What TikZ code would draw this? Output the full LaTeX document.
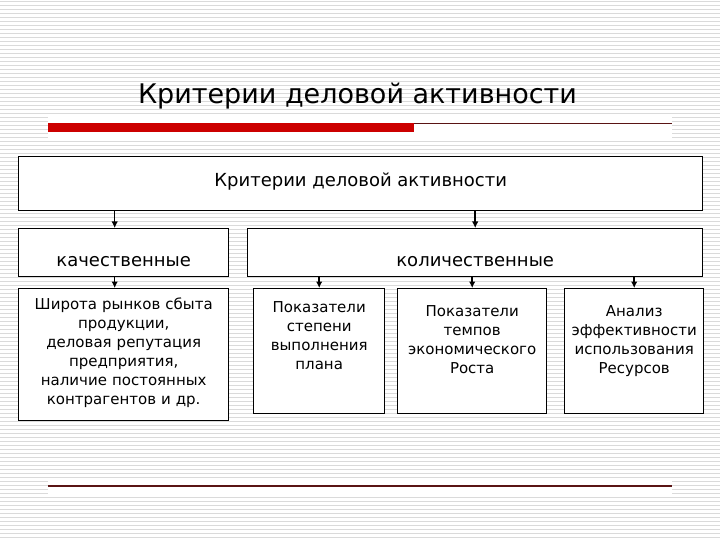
\documentclass[tikz,border=0pt]{standalone}
\usepackage{fontspec}
\setmainfont{DejaVu Sans}
\usetikzlibrary{arrows.meta}
\definecolor{stripegray}{RGB}{218,218,218}
\definecolor{barred}{RGB}{204,0,0}
\definecolor{rulebrown}{RGB}{90,20,20}

\begin{document}
\begin{tikzpicture}[
  x = 1pt, y = -1pt,
  every node/.style = {font=\fontsize{15}{19}\selectfont},
  box/.style   = {draw, line width=1.4pt, fill=white, inner sep=0pt, align=center},
  head/.style  = {box, font=\fontsize{18}{20}\selectfont},
  kind/.style  = {box, font=\fontsize{18}{20}\selectfont,
                  text height=37.5pt, text depth=10.5pt},
  leaf/.style  = {box, text width=#1},
  go/.style    = {->, >={Latex[length=6.5pt,width=6.5pt]}, line width=1.5pt},
]
\useasboundingbox (0,0) rectangle (720,540);

% background stripes
\fill[white] (0,0) rectangle (720,540);
\foreach \y in {0,4,...,536}
  \fill[stripegray] (0,\y+1) rectangle (720,\y+2.4);

% --- title and rules ---------------------------------------------------
\node[font=\fontsize{27}{30}\selectfont, inner sep=0pt, anchor=base]
  (title) at (357.5,104) {Критерии деловой активности};
\fill[white] (48,116) rectangle (672,140);
\fill[barred] (48,123) rectangle (414,132);
\draw[rulebrown, line width=1.2pt] (414,123.5) -- (672,123.5);
\fill[white] (48,480) rectangle (672,494);
\draw[rulebrown, line width=1.4pt] (48,486) -- (672,486);

% --- top level -----------------------------------------------------------
\node[head, minimum width=684pt, text height=29.5pt, text depth=24.5pt,
      anchor=north west] (crit) at (18,156) {Критерии деловой активности};

% --- two kinds -------------------------------------------------------------
\node[kind, minimum width=210pt, anchor=north west] (qual) at (18,228) {качественные};
\node[kind, minimum width=455pt, anchor=north west] (quant) at (247,228) {количественные};
\draw[go] ([xshift=-9pt]qual.north |- crit.south) -- ([xshift=-9pt]qual.north);
\draw[go] (quant.north |- crit.south) -- (quant.north);

% --- leaves ---------------------------------------------------------------
\node[leaf=210pt, text height=20.5pt, text depth=111.5pt, anchor=north west]
  (market) at (18,288) {Широта рынков сбыта\\ продукции,\\ деловая репутация\\
  предприятия,\\ наличие постоянных\\ контрагентов и др.};
\draw[go] ([xshift=-9pt]qual.south) -- ([xshift=-9pt]market.north);

\node[leaf=131pt, text height=24pt, text depth=101pt, anchor=north west]
  (plan) at (253,288) {Показатели\\ степени\\ выполнения\\ плана};
\node[leaf=149pt, text height=27.5pt, text depth=97.5pt, anchor=north west]
  (growth) at (397,288) {Показатели\\ темпов\\ экономического\\ Роста};
\node[leaf=139pt, text height=27.5pt, text depth=97.5pt, anchor=north west]
  (res) at (564,288) {Анализ\\ эффективности\\ использования\\ Ресурсов};
\foreach \n in {plan, growth, res}
  \draw[go] (\n.north |- quant.south) -- (\n.north);

\end{tikzpicture}
\end{document}
